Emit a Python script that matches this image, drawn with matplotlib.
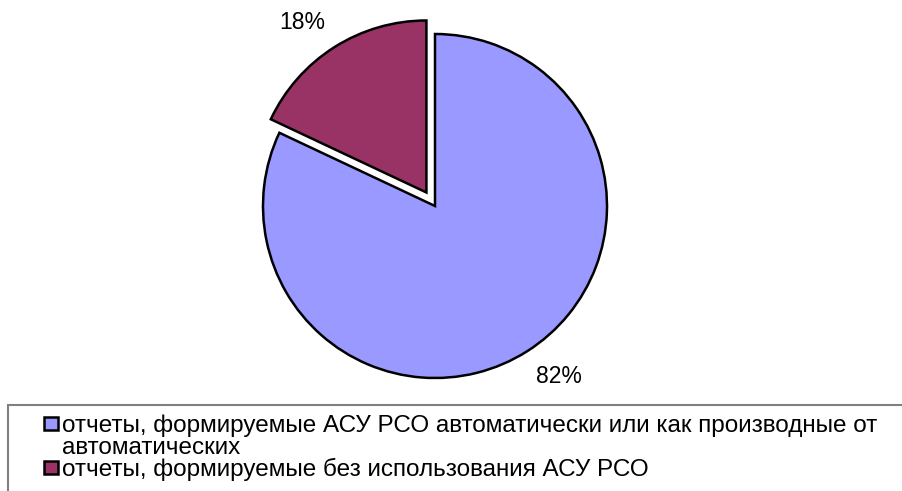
import numpy as np
import matplotlib.pyplot as plt
from matplotlib.patches import Rectangle

plt.rcParams['font.family'] = ['Liberation Sans', 'DejaVu Sans']

# --- DATA ---
labels = [
    'отчеты, формируемые АСУ РСО автоматически или как производные от\nавтоматических',
    'отчеты, формируемые без использования АСУ РСО',
]
values = [82, 18]
colors = ['#9999FF', '#993366']

# --- FIGURE (axes in pixel units, y grows upward) ---
W, H = 902, 491
fig = plt.figure(figsize=(W / 100, H / 100), dpi=100)
ax = fig.add_axes([0, 0, 1, 1])

R = 172
cx, cy = 435, H - 206

# pie() offsets exploded wedges in data units, so 16 here means 16 px
wedges, _ = ax.pie(values, colors=colors, startangle=90, counterclock=False,
                   explode=[0, 16], radius=R, center=(cx, cy),
                   wedgeprops=dict(edgecolor='black', linewidth=1.8),
                   frame=True)
ax.set_xlim(0, W)
ax.set_ylim(0, H)
ax.set_aspect('equal')
ax.axis('off')

# percent labels just outside each slice, corner anchored on the mid angle
for w, v in zip(wedges, values):
    mid = np.deg2rad((w.theta1 + w.theta2) / 2)
    wx, wy = w.center
    x = wx + (w.r + 16) * np.cos(mid)
    y = wy + (w.r + 16) * np.sin(mid)
    ax.text(x, y, f'{v}%', fontsize=16.5,
            ha='left' if np.cos(mid) > 0 else 'right',
            va='top' if np.sin(mid) < 0 else 'bottom')

# --- LEGEND ---
ax.add_patch(Rectangle((8, -20), W + 20, H - 405 + 20, facecolor='none',
                       edgecolor='#808080', linewidth=1.5, clip_on=False))
line_y = [423, 467]
for lab, col, ly in zip(labels, colors, line_y):
    ax.add_patch(Rectangle((44, H - ly - 7), 13.5, 13.5, facecolor=col,
                           edgecolor='black', linewidth=1.8))
    for k, part in enumerate(lab.split('\n')):
        ax.text(62, H - ly - 22 * k, part, fontsize=17.5, ha='left',
                va='center_baseline')

fig.savefig('out.png', dpi=100)
